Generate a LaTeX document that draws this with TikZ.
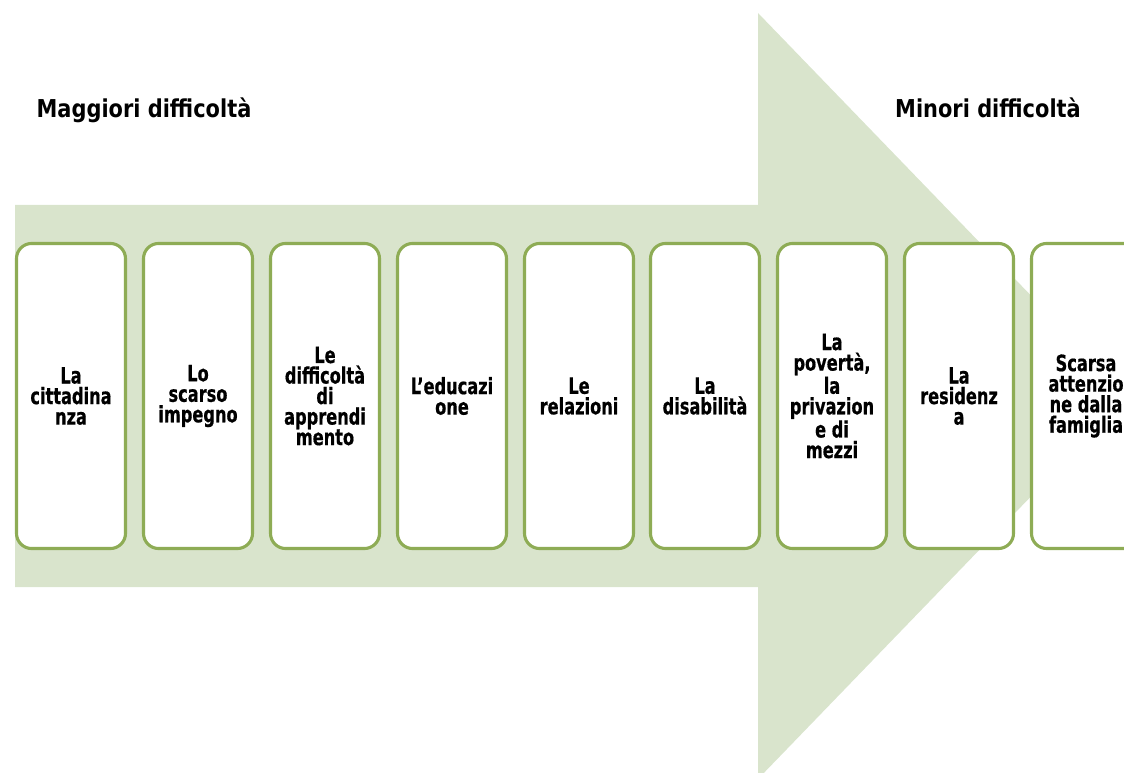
\documentclass[tikz,border=0pt]{standalone}
\usepackage{fontspec}
\setmainfont{DejaVu Sans}[FakeStretch=0.85]
\newfontfamily\factorfont{DejaVu Sans}[FakeStretch=0.72, FakeBold=0.6]
\usetikzlibrary{positioning}
\definecolor{arrowgreen}{HTML}{D9E4CC}
\definecolor{boxgreen}{HTML}{8EAC55}

\begin{document}
\begin{tikzpicture}[
      x=0.025cm, y=-0.025cm,
      every node/.style={font=\factorfont\bfseries\fontsize{16}{14.6}\selectfont},
      factor/.style={draw=boxgreen, line width=2.2pt, rounded corners=0.38cm, fill=white,
        minimum width=2.725cm, minimum height=7.625cm, align=center, inner sep=0pt},
      heading/.style={font=\rmfamily\bfseries\fontsize{17.5}{20}\selectfont, anchor=base},
    ]
    \useasboundingbox (0,0) rectangle (1124,773);
    \clip (0,0) rectangle (1124,773);

    % big arrow behind the boxes
    \fill[arrowgreen] (15,205) -- (758,205) -- (758,13) -- (1128,396)
      -- (758,779) -- (758,587) -- (15,587) -- cycle;

    \node[heading] (hard) at (144,118) {Maggiori difficoltà};
    \node[heading] (easy) at (988,118) {Minori difficoltà};

    \node[factor] (f1) at (71,396) {La\\cittadina\\nza};
    \node[factor] (f2) at (198,396) {Lo\\scarso\\impegno};
    \node[factor] (f3) at (325,396) {Le\\difficoltà\\di\\apprendi\\mento};
    \node[factor] (f4) at (452,396) {L’educazi\\one};
    \node[factor] (f5) at (579,396) {Le\\relazioni};
    \node[factor] (f6) at (705,396) {La\\disabilità};
    \node[factor] (f7) at (832,396) {La\\povertà,\\la\\privazion\\e di\\mezzi};
    \node[factor] (f8) at (959,396) {La\\residenz\\a};
    \node[factor] (f9) at (1086,396) {Scarsa\\attenzio\\ne dalla\\famiglia};
  \end{tikzpicture}
\end{document}
